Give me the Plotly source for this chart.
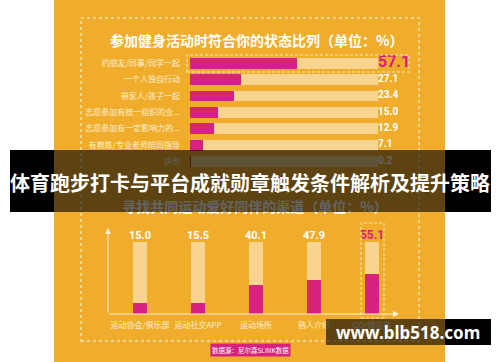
import plotly.graph_objects as go

# ---- data ----
status_labels = ["约朋友/同事/同学一起", "一个人独自行动", "带家人/孩子一起",
                 "志愿参加有统一组织的业...", "志愿参加有一定影响力的...",
                 "有教练/专业老师陪同指导", "其他"]
status_values = [57.1, 27.1, 23.4, 15.0, 12.9, 7.1, 0.2]

channel_labels = ["运动协会/俱乐部", "运动社交APP", "运动场所", "熟人介绍", "QQ/微信群"]
channel_values = [15.0, 15.5, 40.1, 47.9, 55.1]

full_scale = 100

title1 = "参加健身活动时符合你的状态比列（单位：%）"
title2 = "寻找共同运动爱好同伴的渠道（单位：%）"
banner = "体育跑步打卡与平台成就勋章触发条件解析及提升策略"
source = "数据源：尼尔森SLINK数据"
watermark = "www.blb518.com"

# ---- style ----
W, H = 500, 362
ORANGE = "#F0AD2C"
PINK = "#D7237E"
TRACK = "#F8D48F"
CREAM = "#FDF0D5"
DASH = "#F7D48C"
CJK = "Noto Sans CJK SC"
NUM = "Liberation Sans Narrow, Roboto, sans-serif"


def X(px):
    return px / W


def Y(py):
    return 1 - py / H


fig = go.Figure()

# chart 1: horizontal bars
fig.add_trace(go.Bar(y=status_labels, x=[full_scale] * len(status_labels), orientation="h",
                     marker=dict(color=TRACK, line_width=0), width=0.66,
                     xaxis="x", yaxis="y", hoverinfo="skip"))
fig.add_trace(go.Bar(y=status_labels, x=status_values, orientation="h",
                     marker=dict(color=PINK, line_width=0), width=0.66,
                     xaxis="x", yaxis="y", hoverinfo="skip"))
fig.add_trace(go.Scatter(y=status_labels[1:], x=[full_scale] * (len(status_labels) - 1),
                         mode="text", text=[f"{v:.1f}" for v in status_values[1:]],
                         textposition="middle right", cliponaxis=False,
                         textfont=dict(family=NUM, size=10, color="white", weight="bold"),
                         xaxis="x", yaxis="y", hoverinfo="skip"))
fig.add_trace(go.Scatter(y=status_labels[:1], x=[full_scale], mode="text",
                         text=[f"{status_values[0]:.1f}"], textposition="middle right",
                         cliponaxis=False,
                         textfont=dict(family=NUM, size=16, color=PINK, weight="bold"),
                         xaxis="x", yaxis="y", hoverinfo="skip"))

# chart 2: vertical bars
fig.add_trace(go.Bar(x=channel_labels, y=[full_scale] * len(channel_labels),
                     marker=dict(color=TRACK, line_width=0), width=0.23,
                     xaxis="x2", yaxis="y2", hoverinfo="skip"))
fig.add_trace(go.Bar(x=channel_labels, y=channel_values,
                     marker=dict(color=PINK, line_width=0), width=0.23,
                     xaxis="x2", yaxis="y2", hoverinfo="skip"))
fig.add_trace(go.Scatter(x=channel_labels[:-1], y=[full_scale] * (len(channel_labels) - 1),
                         mode="text", text=[f"{v:.1f}" for v in channel_values[:-1]],
                         textposition="top center", cliponaxis=False,
                         textfont=dict(family=NUM, size=11, color="white", weight="bold"),
                         xaxis="x2", yaxis="y2", hoverinfo="skip"))
fig.add_trace(go.Scatter(x=channel_labels[-1:], y=[full_scale], mode="text",
                         text=[f"{channel_values[-1]:.1f}"], textposition="top center",
                         cliponaxis=False,
                         textfont=dict(family=NUM, size=12, color=PINK, weight="bold"),
                         xaxis="x2", yaxis="y2", hoverinfo="skip"))

shapes = []
# orange panel
shapes.append(dict(type="rect", xref="paper", yref="paper", x0=X(54), x1=X(445), y0=Y(362), y1=Y(0),
                   fillcolor=ORANGE, line_width=0, layer="below"))
# big dashed frame
shapes.append(dict(type="rect", xref="paper", yref="paper", x0=X(81), x1=X(419), y0=Y(341), y1=Y(18),
                   line=dict(color=DASH, width=2, dash="3px,3px"), layer="below"))
# highlight frames
shapes.append(dict(type="rect", xref="paper", yref="paper", x0=X(187), x1=X(409), y0=Y(72), y1=Y(55),
                   line=dict(color=DASH, width=1.5, dash="3px,2px"), layer="above"))
shapes.append(dict(type="rect", xref="paper", yref="paper", x0=X(361), x1=X(384), y0=Y(318), y1=Y(223),
                   line=dict(color=DASH, width=1.5, dash="3px,2px"), layer="above"))
# second title (under banner)
shapes.append(dict(type="rect", xref="paper", yref="paper", x0=X(100), x1=X(410), y0=Y(216), y1=Y(199),
                   line_width=0, fillcolor="rgba(0,0,0,0)", layer="above",
                   label=dict(text=title2, textposition="middle center",
                              font=dict(family=CJK, size=14, color="white", weight="bold"))))
# banner
shapes.append(dict(type="rect", xref="paper", yref="paper", x0=X(54), x1=X(445), y0=Y(212), y1=Y(150),
                   fillcolor="rgba(0,0,0,0.61)", line_width=0, layer="above"))
shapes.append(dict(type="rect", xref="paper", yref="paper", x0=X(10), x1=X(54), y0=Y(212), y1=Y(150),
                   fillcolor="black", line_width=0, layer="above"))
shapes.append(dict(type="rect", xref="paper", yref="paper", x0=X(445), x1=X(491), y0=Y(212), y1=Y(150),
                   fillcolor="black", line_width=0, layer="above"))
# watermark box
shapes.append(dict(type="rect", xref="paper", yref="paper", x0=X(326), x1=X(445), y0=Y(345), y1=Y(319),
                   fillcolor="rgba(0,0,0,0.61)", line_width=0, layer="above"))
shapes.append(dict(type="rect", xref="paper", yref="paper", x0=X(445), x1=X(491), y0=Y(345), y1=Y(319),
                   fillcolor="black", line_width=0, layer="above"))

C = dict(xref="paper", yref="paper", xanchor="center", yanchor="middle")
annotations = [
    dict(text=title1, x=X(256), y=Y(40), showarrow=False,
         font=dict(family=CJK, size=14, color="white", weight="bold"), **C),
    # axis arrows for chart 2
    dict(text="", x=X(108), y=Y(228), showarrow=True,
         ax=0, ay=86, axref="pixel", ayref="pixel", arrowhead=2, arrowsize=1.2,
         arrowwidth=1, arrowcolor=CREAM, **C),
    dict(text="", x=X(399), y=Y(314), showarrow=True,
         ax=-291, ay=0, axref="pixel", ayref="pixel", arrowhead=2, arrowsize=1.2,
         arrowwidth=1, arrowcolor=CREAM, **C),
    dict(text=source, x=X(250), y=Y(350), showarrow=False,
         bgcolor=PINK, borderpad=1, font=dict(family=CJK, size=6.5, color="white"), **C),
    dict(text=banner, x=X(250), y=Y(182), showarrow=False,
         font=dict(family=CJK, size=20, color="white", weight="bold"), **C),
    dict(text=watermark, x=X(408), y=Y(332), showarrow=False,
         font=dict(family="Noto Sans", size=17, color="white", weight="bold"), **C),
]

fig.update_layout(
    width=W, height=H, margin=dict(l=0, r=0, t=0, b=0),
    paper_bgcolor="white", plot_bgcolor="rgba(0,0,0,0)",
    barmode="overlay", showlegend=False, bargap=0,
    xaxis=dict(domain=[X(190), X(378)], range=[0, full_scale], visible=False, fixedrange=True),
    yaxis=dict(domain=[Y(169.6), Y(54.8)], type="category", range=[6.5, -0.5],
               showgrid=False, zeroline=False, showline=False, ticks="",
               ticklabelstandoff=9, tickfont=dict(family=CJK, size=8, color=CREAM),
               fixedrange=True),
    xaxis2=dict(domain=[X(111), X(401)], type="category", range=[-0.5, 4.5], anchor="y2",
                showgrid=False, zeroline=False, showline=False, ticks="",
                ticklabelstandoff=5, tickfont=dict(family=CJK, size=8, color=CREAM),
                fixedrange=True),
    yaxis2=dict(domain=[Y(314), Y(242)], range=[0, full_scale], anchor="x2", visible=False,
                fixedrange=True),
    shapes=shapes, annotations=annotations,
)

fig.write_html("out.html", config={"displayModeBar": False},
               post_script="document.body.style.margin='0';document.body.style.overflow='hidden';")
